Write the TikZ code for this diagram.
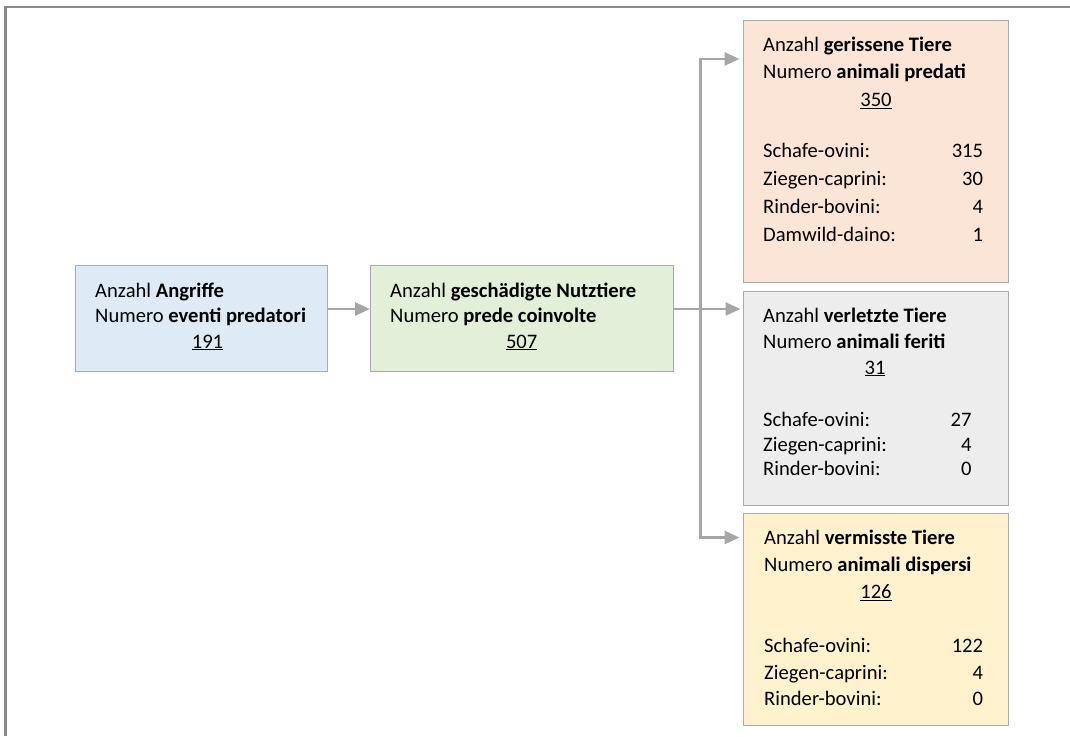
\documentclass[tikz,border=0pt]{standalone}
\usepackage{fontspec}
\setmainfont{Carlito}
\usetikzlibrary{arrows.meta}
\definecolor{frameline}{HTML}{8A8A8A}
\definecolor{boxline}{HTML}{ABABAB}
\definecolor{arrowgray}{HTML}{A6A6A6}
\definecolor{fillblue}{HTML}{DEEBF7}
\definecolor{fillgreen}{HTML}{E2EFD9}
\definecolor{fillorange}{HTML}{FBE5D6}
\definecolor{fillgray}{HTML}{EDEDED}
\definecolor{fillyellow}{HTML}{FFF2CC}
\begin{document}
\begin{tikzpicture}[x=1pt,y=-1pt,
  box/.style={draw=boxline, line width=1.3pt, inner sep=0pt, anchor=north west},
  txt/.style={anchor=base west, inner sep=0pt, font=\fontsize{20.6}{25}\selectfont},
  num/.style={anchor=base, inner sep=0pt, font=\fontsize{20.6}{25}\selectfont},
  val/.style={anchor=base east, inner sep=0pt, font=\fontsize{20.6}{25}\selectfont},
  conn/.style={draw=arrowgray, line width=2.6pt},
  arr/.style={conn, -{Triangle[length=15pt,width=13pt]}}
]
\useasboundingbox (0,0) rectangle (1070,736);
% outer frame
\coordinate (fa) at (5.5,736);
\coordinate (fb) at (5.5,7);
\coordinate (fc) at (1070,7);
\draw[frameline, line width=2.4pt] (fa) -- (fb) -- (fc);

% boxes
\node[box, fill=fillblue, minimum width=252pt, minimum height=106pt] (b1) at (75,265) {};
\node[box, fill=fillgreen, minimum width=303pt, minimum height=106pt] (b2) at (370,265) {};
\node[box, fill=fillorange, minimum width=265pt, minimum height=262pt] (b3) at (742.5,19.5) {};
\node[box, fill=fillgray, minimum width=265pt, minimum height=214pt] (b4) at (742.5,291) {};
\node[box, fill=fillyellow, minimum width=265pt, minimum height=212.5pt] (b5) at (742.5,512.5) {};

% connectors
\coordinate (j) at (700.5,309);
\coordinate (jt) at (700.5,59);
\coordinate (jb) at (700.5,537.5);
\draw[arr] (b1.east |- j) -- (b2.west |- j);
\draw[arr, shorten >=2pt] (b2.east |- j) -- (b4.west |- j);
\draw[arr, shorten >=3pt] (j) |- (b3.west |- jt);
\draw[arr, shorten >=3pt] (j) |- (b5.west |- jb);

% blue
\node[txt] (t1a) at (95,297) {Anzahl \textbf{Angriffe}};
\node[txt] (t1b) at (95,322.5) {Numero \textbf{eventi predatori}};
\node[num] (t1c) at (207.5,348) {\underline{191}};
% green
\node[txt] (t2a) at (390,297) {Anzahl \textbf{geschädigte Nutztiere}};
\node[txt] (t2b) at (390,322.5) {Numero \textbf{prede coinvolte}};
\node[num] (t2c) at (521.7,348) {\underline{507}};
% orange
\node[txt] (t3a) at (763,51) {Anzahl \textbf{gerissene Tiere}};
\node[txt] (t3b) at (763,78.5) {Numero \textbf{animali predati}};
\node[num] (t3c) at (876,106.5) {\underline{350}};
\node[txt] (t3d) at (763,157) {Schafe-ovini:};
\node[val] (t3e) at (983.3,157) {315};
\node[txt] (t3f) at (763,185) {Ziegen-caprini:};
\node[val] (t3g) at (983.3,185) {30};
\node[txt] (t3h) at (763,213) {Rinder-bovini:};
\node[val] (t3i) at (983.3,213) {4};
\node[txt] (t3j) at (763,241.5) {Damwild-daino:};
\node[val] (t3k) at (983.3,241.5) {1};
% gray
\node[txt] (t4a) at (763,322.5) {Anzahl \textbf{verletzte Tiere}};
\node[txt] (t4b) at (763,348.5) {Numero \textbf{animali feriti}};
\node[num] (t4c) at (875,374) {\underline{31}};
\node[txt] (t4d) at (763,426.5) {Schafe-ovini:};
\node[val] (t4e) at (971.7,426.5) {27};
\node[txt] (t4f) at (763,451) {Ziegen-caprini:};
\node[val] (t4g) at (971.7,451) {4};
\node[txt] (t4h) at (763,475.5) {Rinder-bovini:};
\node[val] (t4i) at (971.7,475.5) {0};
% yellow
\node[txt] (t5a) at (764,544.5) {Anzahl \textbf{vermisste Tiere}};
\node[txt] (t5b) at (764,571.5) {Numero \textbf{animali dispersi}};
\node[num] (t5c) at (876,598.5) {\underline{126}};
\node[txt] (t5d) at (764,652) {Schafe-ovini:};
\node[val] (t5e) at (983.3,652) {122};
\node[txt] (t5f) at (764,679) {Ziegen-caprini:};
\node[val] (t5g) at (983.3,679) {4};
\node[txt] (t5h) at (764,705.5) {Rinder-bovini:};
\node[val] (t5i) at (983.3,705.5) {0};
\end{tikzpicture}
\end{document}
